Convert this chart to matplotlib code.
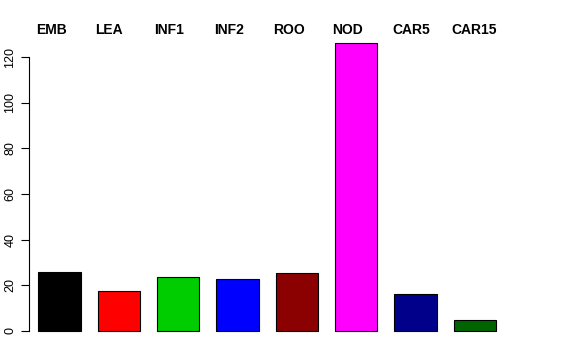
import matplotlib.pyplot as plt

categories = ['EMB', 'LEA', 'INF1', 'INF2', 'ROO', 'NOD', 'CAR5', 'CAR15']
values = [25.7, 17.4, 23.6, 22.6, 25.3, 126.3, 16.1, 4.7]
colors = ['#000000', '#FF0000', '#00CD00', '#0000FF', '#8B0000', '#FF00FF', '#00008B', '#006400']

plt.rcParams['font.family'] = ['Liberation Sans', 'DejaVu Sans']

W, H = 576, 360
fig = plt.figure(figsize=(5.76, 3.6), dpi=100)

# plot region in pixels (R-like layout)
left_px, right_px = 29, 547
top_px, bottom_px = 30, 337
ax = fig.add_axes([left_px / W, 1 - bottom_px / H,
                   (right_px - left_px) / W, (bottom_px - top_px) / H])

# bar geometry: width 1, space 0.4 (R barplot style)
lefts = [0.4 + 1.4 * i for i in range(len(values))]
ax.bar(lefts, values, width=1.0, align='edge', color=colors,
       edgecolor='black', linewidth=0.8)

px_per_x = 42.4
x0 = 0.4 - (38.3 - left_px) / px_per_x
ax.set_xlim(x0, x0 + (right_px - left_px) / px_per_x)

px_per_y = 2.283
y0 = -(bottom_px - 331) / px_per_y
ax.set_ylim(y0, y0 + (bottom_px - top_px) / px_per_y)

for s in ['top', 'right', 'bottom']:
    ax.spines[s].set_visible(False)
ax.spines['left'].set_bounds(0, 120)
ax.spines['left'].set_linewidth(0.8)
ax.set_xticks([])
ax.set_yticks([0, 20, 40, 60, 80, 100, 120])
ax.tick_params(axis='y', length=6, width=0.8, pad=3, labelsize=9)
for lab in ax.get_yticklabels():
    lab.set_rotation(90)
    lab.set_va('center')

for i, name in enumerate(categories):
    fig.text((38.3 - 2.5 + i * 1.4 * px_per_x) / W, 1 - 30 / H, name,
             ha='left', va='center', fontsize=10, fontweight='bold')

fig.savefig('out.png', dpi=100)
